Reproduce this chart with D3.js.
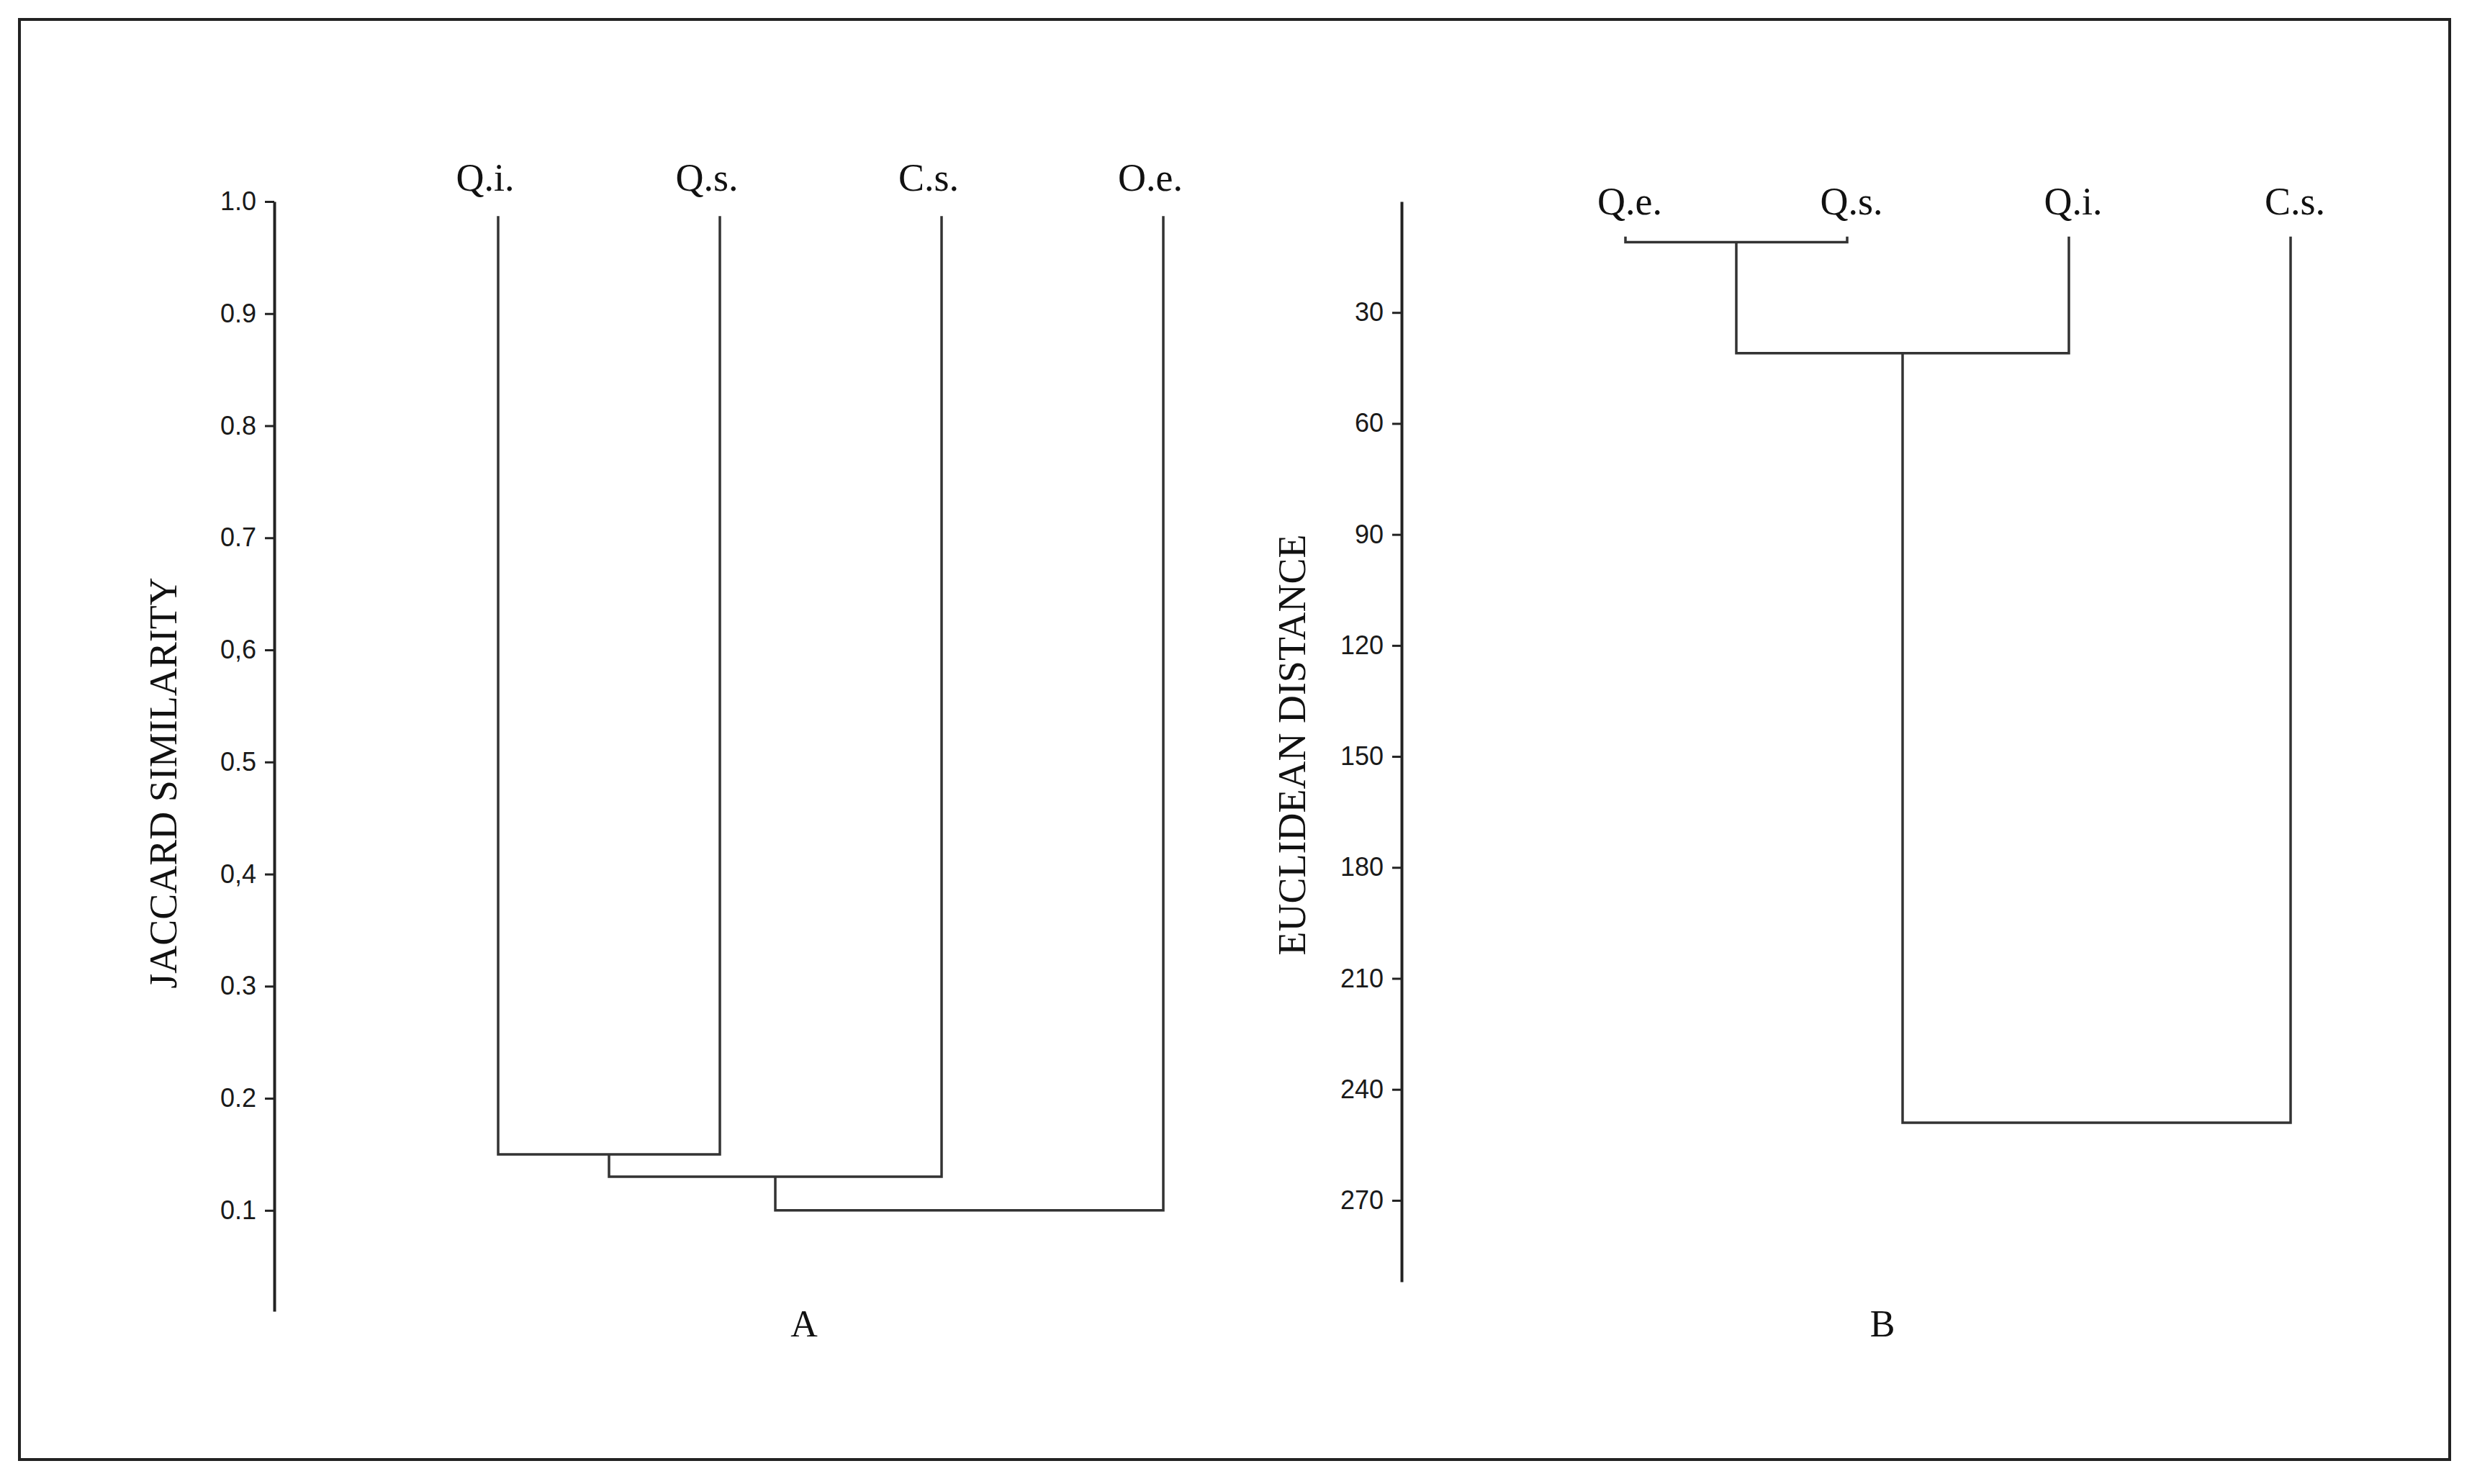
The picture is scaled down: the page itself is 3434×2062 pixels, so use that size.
<!DOCTYPE html>
<html lang="en">
<head>
    <meta charset="UTF-8">
    <title>Dendrograms A and B</title>
    <script src="https://d3js.org/d3.v7.min.js"></script>
    <style>
        body{
            margin: 0;
            background: #fff;
        }
        .tick text{
            font-family: "Liberation Sans", Arial, sans-serif;
            font-size: 36px;
            fill: #1a1a1a;
        }
        .leaf, .panel, .ytitle{
            font-family: "Liberation Serif", "Times New Roman", serif;
            fill: #111;
        }
    </style>
</head>
<body>
    <script>
        // panel A : Jaccard similarity
        const leavesA = ["Q.i.", "Q.s.", "C.s.", "O.e."]
        // linkage rows: [left, right, height]; index >= n means an earlier cluster
        const mergesA = [[0, 1, 0.15], [4, 2, 0.13], [5, 3, 0.10]]
        const ticksA = [1.0, 0.9, 0.8, 0.7, 0.6, 0.5, 0.4, 0.3, 0.2, 0.1]
        const tickLabelsA = ["1.0", "0.9", "0.8", "0.7", "0,6", "0.5", "0,4", "0.3", "0.2", "0.1"]

        // panel B : Euclidean distance
        const leavesB = ["Q.e.", "Q.s.", "Q.i.", "C.s."]
        const mergesB = [[0, 1, 11], [4, 2, 41], [5, 3, 249]]
        const ticksB = [30, 60, 90, 120, 150, 180, 210, 240, 270]
        const tickLabelsB = ticksB.map(String)

        const svgSize = {width: 3434, height: 2062}
        const svg = d3.select("body").append("svg")
                        .attr("width", svgSize.width)
                        .attr("height", svgSize.height)
                        .attr("viewBox", [0, 0, svgSize.width, svgSize.height])

        // outer frame
        svg.append("rect")
            .attr("x", 27).attr("y", 27)
            .attr("width", 3376).attr("height", 2001)
            .attr("fill", "none")
            .attr("stroke", "#222")
            .attr("stroke-width", 4)

        function dendrogram(cfg){
            const g = svg.append("g")
            const n = cfg.leaves.length

            const x = d3.scalePoint().domain(d3.range(n)).range(cfg.xRange)

            // axis
            const axis = d3.axisLeft(cfg.y)
                            .tickValues(cfg.ticks)
                            .tickFormat((d, i) => cfg.tickLabels[i])
                            .tickSize(13)
                            .tickPadding(12)
                            .tickSizeOuter(0)
            const ax = g.append("g")
                        .attr("transform", `translate(${cfg.axisX},0)`)
                        .call(axis)
            ax.select(".domain").attr("stroke", "#222").attr("stroke-width", 4)
            ax.selectAll(".tick line").attr("stroke", "#222").attr("stroke-width", 3)

            g.append("text")
                .attr("class", "ytitle")
                .attr("transform", `translate(${cfg.titleX},${cfg.titleY}) rotate(-90)`)
                .attr("text-anchor", "middle")
                .attr("font-size", 54)
                .text(cfg.title)

            // leaf labels
            g.selectAll(".leaf")
                .data(cfg.leaves)
                .join("text")
                .attr("class", "leaf")
                .attr("x", (d, i) => x(i) + cfg.labelDx)
                .attr("y", cfg.labelY)
                .attr("text-anchor", "middle")
                .attr("font-size", 54)
                .text(d => d)

            // walk the linkage, nodes hold {x, v}
            const nodes = cfg.leaves.map((d, i) => ({x: x(i), v: cfg.leafTop}))
            const links = []
            cfg.merges.forEach(m => {
                const a = nodes[m[0]], b = nodes[m[1]], h = m[2]
                links.push([[a.x, cfg.y(a.v)], [a.x, cfg.y(h)], [b.x, cfg.y(h)], [b.x, cfg.y(b.v)]])
                nodes.push({x: (a.x + b.x) / 2, v: h})
            })

            g.selectAll(".link")
                .data(links)
                .join("path")
                .attr("class", "link")
                .attr("d", d3.line())
                .attr("fill", "none")
                .attr("stroke", "#333")
                .attr("stroke-width", 3.5)

            g.append("text")
                .attr("class", "panel")
                .attr("x", cfg.panelX)
                .attr("y", 1857)
                .attr("text-anchor", "middle")
                .attr("font-size", 52)
                .text(cfg.panel)
        }

        dendrogram({
            leaves: leavesA, merges: mergesA, ticks: ticksA, tickLabels: tickLabelsA,
            y: d3.scaleLinear().domain([0.01, 1]).range([1822, 280]),
            xRange: [692, 1616], axisX: 381, leafTop: 0.987, labelY: 265, labelDx: -18,
            title: "JACCARD SIMILARITY", titleX: 245, titleY: 1088,
            panel: "A", panelX: 1117
        })

        dendrogram({
            leaves: leavesB, merges: mergesB, ticks: ticksB, tickLabels: tickLabelsB,
            y: d3.scaleLinear().domain([0, 292]).range([280, 1781]),
            xRange: [2258, 3182], axisX: 1947, leafTop: 9.5, labelY: 298, labelDx: 6,
            title: "EUCLIDEAN DISTANCE", titleX: 1813, titleY: 1035,
            panel: "B", panelX: 2615
        })
    </script>
</body>
</html>
